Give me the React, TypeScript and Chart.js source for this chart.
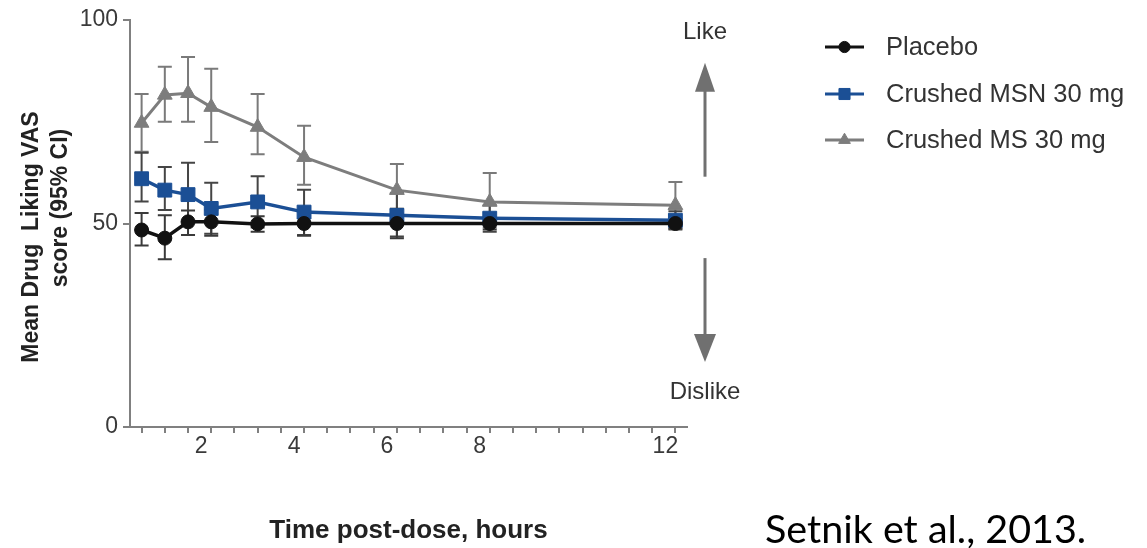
import React, { useEffect, useRef } from 'react';
import { Chart, registerables } from 'chart.js';

Chart.register(...registerables);

// ---------- data ----------
const TIMES = [0.5, 1, 1.5, 2, 3, 4, 6, 8, 12];
const X_TICKS = [0.5, 1, 1.5, 2, 2.5, 3, 3.5, 4, 4.5, 5, 5.5, 6, 6.5, 7, 7.5, 8, 8.5, 9, 9.5, 10, 10.5, 11, 11.5, 12];
const X_LABELS = [2, 4, 6, 8, 12];
const Y_TICKS = [0, 50, 100];

const SERIES_NAMES = ['Placebo', 'Crushed MSN 30 mg', 'Crushed MS 30 mg'];

const PLACEBO_MEAN = [48.4, 46.4, 50.4, 50.4, 49.9, 50.0, 50.0, 50.0, 50.0];
const PLACEBO_LO = [44.6, 41.2, 47.2, 47.0, 48.0, 47.0, 46.4, 48.5, 48.8];
const PLACEBO_HI = [52.6, 52.0, 53.2, 53.4, 51.8, 53.0, 53.6, 51.5, 51.2];

const MSN_MEAN = [61.0, 58.2, 57.1, 53.7, 55.3, 52.8, 52.0, 51.3, 50.8];
const MSN_LO = [55.4, 53.3, 50.5, 47.5, 49.0, 47.2, 46.8, 48.0, 48.5];
const MSN_HI = [67.4, 63.9, 64.9, 60.0, 61.6, 58.3, 57.5, 54.5, 53.0];

const MS_MEAN = [74.7, 81.6, 82.0, 78.6, 73.7, 66.3, 58.2, 55.3, 54.5];
const MS_LO = [67.6, 75.0, 75.0, 70.0, 67.0, 59.5, 52.5, 49.0, 49.0];
const MS_HI = [81.8, 88.5, 90.9, 88.0, 81.8, 74.0, 64.6, 62.4, 60.2];

const Y_TITLE_LINES = ['Mean Drug  Liking VAS', 'score (95% CI)'];
const X_TITLE = 'Time post-dose, hours';
const LIKE_TEXT = 'Like';
const DISLIKE_TEXT = 'Dislike';
const CITATION = 'Setnik et al., 2013.';

// ---------- styles ----------
const COLORS = ['#111111', '#1b4f95', '#7d7d7d'];
const ERR_COLORS = ['#3a3a3a', '#454545', '#7a7a7a'];
const POINT_STYLES = ['circle', 'rect', 'triangle'];
const POINT_RADII = [7, 9.8, 8.5];
const LINE_WIDTHS = [3.5, 3.5, 3];
const AXIS_COLOR = '#808080';
const FONT = '"Liberation Sans", Arial, sans-serif';

const MEANS = [PLACEBO_MEAN, MSN_MEAN, MS_MEAN];
const LOWS = [PLACEBO_LO, MSN_LO, MS_LO];
const HIGHS = [PLACEBO_HI, MSN_HI, MS_HI];

function drawMarker(ctx: CanvasRenderingContext2D, style: string, x: number, y: number, r: number, color: string) {
  ctx.save();
  ctx.fillStyle = color;
  ctx.strokeStyle = color;
  ctx.lineWidth = 1;
  ctx.beginPath();
  if (style === 'circle') {
    ctx.arc(x, y, r, 0, Math.PI * 2);
  } else if (style === 'rect') {
    const s = r * Math.SQRT1_2;
    ctx.rect(x - s, y - s, 2 * s, 2 * s);
  } else {
    for (let k = 0; k < 3; k++) {
      const a = -Math.PI / 2 + (k * 2 * Math.PI) / 3;
      const px = x + r * Math.cos(a);
      const py = y + r * Math.sin(a);
      if (k === 0) ctx.moveTo(px, py);
      else ctx.lineTo(px, py);
    }
    ctx.closePath();
  }
  ctx.fill();
  ctx.stroke();
  ctx.restore();
}

function drawArrow(ctx: CanvasRenderingContext2D, x: number, tail: number, tip: number, headLen: number, headHalf: number) {
  const dir = tip < tail ? -1 : 1;
  ctx.save();
  ctx.strokeStyle = '#707070';
  ctx.fillStyle = '#707070';
  ctx.lineWidth = 3;
  ctx.beginPath();
  ctx.moveTo(x, tail);
  ctx.lineTo(x, tip - dir * headLen + dir * 2);
  ctx.stroke();
  ctx.beginPath();
  ctx.moveTo(x, tip);
  ctx.lineTo(x - headHalf, tip - dir * headLen);
  ctx.lineTo(x + headHalf, tip - dir * headLen);
  ctx.closePath();
  ctx.fill();
  ctx.restore();
}

const errorBarPlugin = {
  id: 'errorBars',
  beforeDatasetsDraw(chart: any) {
    const { ctx, scales } = chart;
    const xs = scales.x;
    const ys = scales.y;
    for (let i = MEANS.length - 1; i >= 0; i--) {
      ctx.save();
      ctx.strokeStyle = ERR_COLORS[i];
      ctx.lineWidth = 2;
      TIMES.forEach((t, j) => {
        const px = xs.getPixelForValue(t);
        const top = ys.getPixelForValue(HIGHS[i][j]);
        const bot = ys.getPixelForValue(LOWS[i][j]);
        ctx.beginPath();
        ctx.moveTo(px, top);
        ctx.lineTo(px, bot);
        ctx.moveTo(px - 7, top);
        ctx.lineTo(px + 7, top);
        ctx.moveTo(px - 7, bot);
        ctx.lineTo(px + 7, bot);
        ctx.stroke();
      });
      ctx.restore();
    }
  },
};

const decorPlugin = {
  id: 'decor',
  afterDraw(chart: any) {
    const { ctx, chartArea, scales } = chart;
    const ys = scales.y;

    // Y axis title (two lines, rotated)
    ctx.save();
    ctx.fillStyle = '#222';
    ctx.font = `bold 23px ${FONT}`;
    ctx.textAlign = 'center';
    ctx.textBaseline = 'middle';
    const titleCenters = [
      { x: 32, y: 237 },
      { x: 61, y: 208 },
    ];
    Y_TITLE_LINES.forEach((line, k) => {
      ctx.save();
      ctx.translate(titleCenters[k].x, titleCenters[k].y);
      ctx.rotate(-Math.PI / 2);
      ctx.fillText(line, 0, 0);
      ctx.restore();
    });
    ctx.restore();

    // Like / Dislike arrows
    const ax = chartArea.right + 18;
    ctx.save();
    ctx.fillStyle = '#333';
    ctx.font = `24px ${FONT}`;
    ctx.textAlign = 'center';
    ctx.textBaseline = 'middle';
    ctx.fillText(LIKE_TEXT, ax, ys.getPixelForValue(97));
    ctx.fillText(DISLIKE_TEXT, ax, ys.getPixelForValue(8.4));
    ctx.restore();
    drawArrow(ctx, ax, ys.getPixelForValue(61.5), ys.getPixelForValue(89.5), 29, 10);
    drawArrow(ctx, ax, ys.getPixelForValue(41.5), ys.getPixelForValue(16), 28, 11);

    // Legend
    const rowsY = [47, 94, 140];
    ctx.save();
    SERIES_NAMES.forEach((name, i) => {
      const y = rowsY[i];
      ctx.strokeStyle = COLORS[i];
      ctx.lineWidth = 3;
      ctx.beginPath();
      ctx.moveTo(825, y);
      ctx.lineTo(864, y);
      ctx.stroke();
      drawMarker(ctx, POINT_STYLES[i], 844.5, y, POINT_RADII[i] * 0.8, COLORS[i]);
      ctx.fillStyle = '#333';
      ctx.font = `25.5px ${FONT}`;
      ctx.textAlign = 'left';
      ctx.textBaseline = 'middle';
      ctx.fillText(name, 886, y + 1);
    });
    ctx.restore();

    // Citation
    ctx.save();
    ctx.fillStyle = '#000';
    ctx.font = `39.5px Lato, "Open Sans", sans-serif`;
    ctx.textAlign = 'left';
    ctx.textBaseline = 'alphabetic';
    ctx.fillText(CITATION, 765, 543);
    ctx.restore();
  },
};

export default function App() {
  const canvasRef = useRef<HTMLCanvasElement | null>(null);

  useEffect(() => {
    const canvas = canvasRef.current;
    if (!canvas) return;
    const datasets = SERIES_NAMES.map((name, i) => ({
      label: name,
      data: TIMES.map((t, j) => ({ x: t, y: MEANS[i][j] })),
      borderColor: COLORS[i],
      backgroundColor: COLORS[i],
      borderWidth: LINE_WIDTHS[i],
      pointStyle: POINT_STYLES[i],
      pointRadius: POINT_RADII[i],
      pointBorderWidth: 1,
      pointBackgroundColor: COLORS[i],
      pointBorderColor: COLORS[i],
      tension: 0,
      fill: false,
    }));

    const chart = new Chart(canvas, {
      type: 'line',
      data: { datasets },
      plugins: [errorBarPlugin, decorPlugin],
      options: {
        responsive: false,
        animation: false,
        events: [],
        layout: { padding: { top: 20, right: 460, bottom: 0, left: 0 } },
        plugins: {
          legend: { display: false },
          tooltip: { enabled: false },
        },
        scales: {
          x: {
            type: 'linear',
            min: 0.25,
            max: 12.25,
            afterBuildTicks: (scale: any) => {
              scale.ticks = X_TICKS.map((v) => ({ value: v }));
            },
            afterFit: (scale: any) => {
              scale.height = 121;
            },
            ticks: {
              autoSkip: false,
              maxRotation: 0,
              padding: 0,
              labelOffset: -10,
              color: '#3a3a3a',
              font: { family: FONT, size: 23 },
              callback: (v: any) => (X_LABELS.includes(Number(v)) ? String(v) : ''),
            },
            grid: {
              display: true,
              drawOnChartArea: false,
              drawTicks: true,
              tickLength: 6,
              color: AXIS_COLOR,
              lineWidth: 2,
            },
            border: { display: true, color: AXIS_COLOR, width: 2 },
            title: {
              display: true,
              text: X_TITLE,
              color: '#222',
              font: { family: FONT, size: 26, weight: 'bold' },
              padding: { top: 0, bottom: 2 },
            },
          },
          y: {
            type: 'linear',
            min: 0,
            max: 100,
            afterBuildTicks: (scale: any) => {
              scale.ticks = Y_TICKS.map((v) => ({ value: v }));
            },
            afterFit: (scale: any) => {
              scale.width = 130;
            },
            ticks: {
              padding: 5,
              color: '#3a3a3a',
              font: { family: FONT, size: 23 },
            },
            grid: {
              display: true,
              drawOnChartArea: false,
              drawTicks: true,
              tickLength: 7,
              color: AXIS_COLOR,
              lineWidth: 2,
            },
            border: { display: true, color: AXIS_COLOR, width: 2 },
          },
        },
      } as any,
    });
    return () => chart.destroy();
  }, []);

  return (
    <div style={{ position: 'absolute', left: 0, top: 0, width: 1147, height: 548, background: '#fff' }}>
      <canvas ref={canvasRef} width={1147} height={548} style={{ display: 'block' }} />
    </div>
  );
}
